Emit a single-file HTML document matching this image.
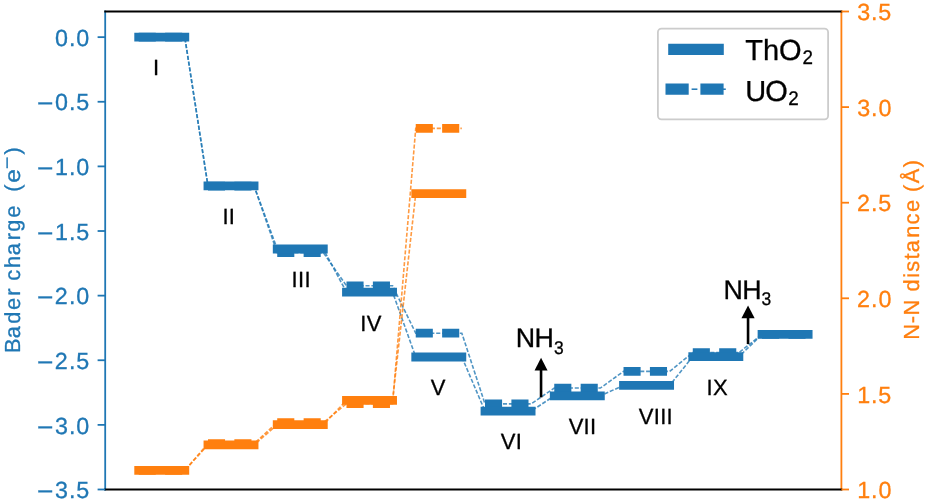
<!DOCTYPE html>
<html><head><meta charset="utf-8"><title>Bader charge and N-N distance</title><style>html,body{margin:0;padding:0;background:#fff;overflow:hidden}text{stroke-width:0.3px;paint-order:stroke}</style></head><body>
<svg width="926" height="502" viewBox="0 0 926 502" style="display:block;will-change:transform;font-family:'Liberation Sans',sans-serif;font-kerning:none;text-rendering:geometricPrecision">
<rect x="0" y="0" width="926" height="502" fill="#ffffff"/>
<polyline points="138.70,37.20 184.80,37.20 207.96,186.10 254.06,186.10 277.22,252.60 323.32,252.60 346.48,285.80 392.58,285.80 415.74,333.20 461.84,333.20 485.00,403.90 531.10,403.90 554.26,388.05 600.36,388.05 623.52,371.40 669.62,371.40 692.78,352.65 738.88,352.65 762.04,334.40 808.14,334.40" fill="none" stroke="#1f77b4" stroke-opacity="0.78" stroke-width="1.60" stroke-dasharray="4.1 1.8"/>
<line x1="138.70" y1="37.20" x2="184.80" y2="37.20" stroke="#1f77b4" stroke-width="8.80" stroke-dasharray="17.1 9.3" stroke-linecap="butt"/>
<line x1="207.96" y1="186.10" x2="254.06" y2="186.10" stroke="#1f77b4" stroke-width="8.80" stroke-dasharray="17.1 9.3" stroke-linecap="butt"/>
<line x1="277.22" y1="252.60" x2="323.32" y2="252.60" stroke="#1f77b4" stroke-width="8.80" stroke-dasharray="17.1 9.3" stroke-linecap="butt"/>
<line x1="346.48" y1="285.80" x2="392.58" y2="285.80" stroke="#1f77b4" stroke-width="8.80" stroke-dasharray="17.1 9.3" stroke-linecap="butt"/>
<line x1="415.74" y1="333.20" x2="461.84" y2="333.20" stroke="#1f77b4" stroke-width="8.80" stroke-dasharray="17.1 9.3" stroke-linecap="butt"/>
<line x1="485.00" y1="403.90" x2="531.10" y2="403.90" stroke="#1f77b4" stroke-width="8.80" stroke-dasharray="17.1 9.3" stroke-linecap="butt"/>
<line x1="554.26" y1="388.05" x2="600.36" y2="388.05" stroke="#1f77b4" stroke-width="8.80" stroke-dasharray="17.1 9.3" stroke-linecap="butt"/>
<line x1="623.52" y1="371.40" x2="669.62" y2="371.40" stroke="#1f77b4" stroke-width="8.80" stroke-dasharray="17.1 9.3" stroke-linecap="butt"/>
<line x1="692.78" y1="352.65" x2="738.88" y2="352.65" stroke="#1f77b4" stroke-width="8.80" stroke-dasharray="17.1 9.3" stroke-linecap="butt"/>
<line x1="762.04" y1="334.40" x2="808.14" y2="334.40" stroke="#1f77b4" stroke-width="8.80" stroke-dasharray="17.1 9.3" stroke-linecap="butt"/>
<polyline points="138.70,37.20 184.80,37.20 207.96,185.80 254.06,185.80 277.22,249.00 323.32,249.00 346.48,292.20 392.58,292.20 415.74,357.00 461.84,357.00 485.00,411.10 531.10,411.10 554.26,395.85 600.36,395.85 623.52,385.40 669.62,385.40 692.78,356.60 738.88,356.60 762.04,334.40 808.14,334.40" fill="none" stroke="#1f77b4" stroke-opacity="0.78" stroke-width="1.60" stroke-dasharray="4.1 1.8"/>
<line x1="138.70" y1="37.20" x2="184.80" y2="37.20" stroke="#1f77b4" stroke-width="8.80" stroke-linecap="square"/>
<line x1="207.96" y1="185.80" x2="254.06" y2="185.80" stroke="#1f77b4" stroke-width="8.80" stroke-linecap="square"/>
<line x1="277.22" y1="249.00" x2="323.32" y2="249.00" stroke="#1f77b4" stroke-width="8.80" stroke-linecap="square"/>
<line x1="346.48" y1="292.20" x2="392.58" y2="292.20" stroke="#1f77b4" stroke-width="8.80" stroke-linecap="square"/>
<line x1="415.74" y1="357.00" x2="461.84" y2="357.00" stroke="#1f77b4" stroke-width="8.80" stroke-linecap="square"/>
<line x1="485.00" y1="411.10" x2="531.10" y2="411.10" stroke="#1f77b4" stroke-width="8.80" stroke-linecap="square"/>
<line x1="554.26" y1="395.85" x2="600.36" y2="395.85" stroke="#1f77b4" stroke-width="8.80" stroke-linecap="square"/>
<line x1="623.52" y1="385.40" x2="669.62" y2="385.40" stroke="#1f77b4" stroke-width="8.80" stroke-linecap="square"/>
<line x1="692.78" y1="356.60" x2="738.88" y2="356.60" stroke="#1f77b4" stroke-width="8.80" stroke-linecap="square"/>
<line x1="762.04" y1="334.40" x2="808.14" y2="334.40" stroke="#1f77b4" stroke-width="8.80" stroke-linecap="square"/>
<text x="153.02" y="75.40" style="font-size:22.00px;fill:#000;stroke:#000">I</text>
<text x="222.42 228.85" y="224.00" style="font-size:22.00px;fill:#000;stroke:#000">II</text>
<text x="291.52 297.95 304.38" y="287.30" style="font-size:22.00px;fill:#000;stroke:#000">III</text>
<text x="360.32 366.70" y="330.50" style="font-size:22.00px;fill:#000;stroke:#000">IV</text>
<text x="430.74" y="394.90" style="font-size:22.00px;fill:#000;stroke:#000">V</text>
<text x="500.74 515.70" y="448.80" style="font-size:22.00px;fill:#000;stroke:#000">VI</text>
<text x="568.64 583.60 590.03" y="433.80" style="font-size:22.00px;fill:#000;stroke:#000">VII</text>
<text x="638.74 653.70 660.13 666.56" y="423.80" style="font-size:22.00px;fill:#000;stroke:#000">VIII</text>
<text x="706.62 712.99" y="395.10" style="font-size:22.00px;fill:#000;stroke:#000">IX</text>
<line x1="541.05" y1="397.40" x2="541.05" y2="368.50" stroke="#000" stroke-width="2.6"/>
<polygon points="541.05,357.70 534.55,370.50 547.55,370.50" fill="#000"/>
<line x1="748.05" y1="344.10" x2="748.05" y2="316.20" stroke="#000" stroke-width="2.6"/>
<polygon points="748.05,305.40 741.45,318.20 754.65,318.20" fill="#000"/>
<text x="515.80 534.40" y="347.10" style="font-size:26.80px;fill:#000;stroke:#000">NH</text>
<text x="583.21" y="353.70" transform="scale(0.95,1)" style="font-size:18.40px;fill:#000;stroke:#000">3</text>
<text x="723.60 742.20" y="298.50" style="font-size:26.80px;fill:#000;stroke:#000">NH</text>
<text x="801.63" y="305.30" transform="scale(0.95,1)" style="font-size:18.40px;fill:#000;stroke:#000">3</text>
<polyline points="138.70,470.30 184.80,470.30 207.96,443.60 254.06,443.60 277.22,422.60 323.32,422.60 346.48,403.70 392.58,403.70 415.74,128.40 461.84,128.40" fill="none" stroke="#ff7f0e" stroke-opacity="0.78" stroke-width="1.60" stroke-dasharray="4.1 1.8"/>
<line x1="138.70" y1="470.30" x2="184.80" y2="470.30" stroke="#ff7f0e" stroke-width="8.80" stroke-dasharray="17.1 9.3" stroke-linecap="butt"/>
<line x1="207.96" y1="443.60" x2="254.06" y2="443.60" stroke="#ff7f0e" stroke-width="8.80" stroke-dasharray="17.1 9.3" stroke-linecap="butt"/>
<line x1="277.22" y1="422.60" x2="323.32" y2="422.60" stroke="#ff7f0e" stroke-width="8.80" stroke-dasharray="17.1 9.3" stroke-linecap="butt"/>
<line x1="346.48" y1="403.70" x2="392.58" y2="403.70" stroke="#ff7f0e" stroke-width="8.80" stroke-dasharray="17.1 9.3" stroke-linecap="butt"/>
<line x1="415.74" y1="128.40" x2="461.84" y2="128.40" stroke="#ff7f0e" stroke-width="8.80" stroke-dasharray="17.1 9.3" stroke-linecap="butt"/>
<polyline points="138.70,470.30 184.80,470.30 207.96,444.90 254.06,444.90 277.22,424.70 323.32,424.70 346.48,400.40 392.58,400.40 415.74,193.65 461.84,193.65" fill="none" stroke="#ff7f0e" stroke-opacity="0.78" stroke-width="1.60" stroke-dasharray="4.1 1.8"/>
<line x1="138.70" y1="470.30" x2="184.80" y2="470.30" stroke="#ff7f0e" stroke-width="8.80" stroke-linecap="square"/>
<line x1="207.96" y1="444.90" x2="254.06" y2="444.90" stroke="#ff7f0e" stroke-width="8.80" stroke-linecap="square"/>
<line x1="277.22" y1="424.70" x2="323.32" y2="424.70" stroke="#ff7f0e" stroke-width="8.80" stroke-linecap="square"/>
<line x1="346.48" y1="400.40" x2="392.58" y2="400.40" stroke="#ff7f0e" stroke-width="8.80" stroke-linecap="square"/>
<line x1="415.74" y1="193.65" x2="461.84" y2="193.65" stroke="#ff7f0e" stroke-width="8.80" stroke-linecap="square"/>
<line x1="105.20" y1="11.50" x2="105.20" y2="489.50" stroke="#1f77b4" stroke-width="1.80" stroke-linecap="square"/>
<line x1="841.40" y1="11.50" x2="841.40" y2="489.50" stroke="#ff7f0e" stroke-width="1.80" stroke-linecap="square"/>
<line x1="105.20" y1="11.50" x2="841.40" y2="11.50" stroke="#000" stroke-width="1.80" stroke-linecap="square"/>
<line x1="105.20" y1="489.50" x2="841.40" y2="489.50" stroke="#000" stroke-width="1.80" stroke-linecap="square"/>
<line x1="97.60" y1="37.15" x2="105.20" y2="37.15" stroke="#1f77b4" stroke-width="1.80"/>
<text x="55.07 68.90 76.25" y="46.00" style="font-size:23.30px;fill:#1f77b4;stroke:#1f77b4">0.0</text>
<line x1="97.60" y1="101.77" x2="105.20" y2="101.77" stroke="#1f77b4" stroke-width="1.80"/>
<text x="34.25" y="111.70" transform="scale(1.0800,1)" style="font-size:26.00px;fill:#1f77b4;stroke:#1f77b4">−</text><text x="55.07 68.90 76.17" y="110.00" style="font-size:23.30px;fill:#1f77b4;stroke:#1f77b4">0.5</text>
<line x1="97.60" y1="166.39" x2="105.20" y2="166.39" stroke="#1f77b4" stroke-width="1.80"/>
<text x="34.25" y="176.70" transform="scale(1.0800,1)" style="font-size:26.00px;fill:#1f77b4;stroke:#1f77b4">−</text><text x="54.95 68.90 76.25" y="175.00" style="font-size:23.30px;fill:#1f77b4;stroke:#1f77b4">1.0</text>
<line x1="97.60" y1="231.01" x2="105.20" y2="231.01" stroke="#1f77b4" stroke-width="1.80"/>
<text x="34.25" y="241.70" transform="scale(1.0800,1)" style="font-size:26.00px;fill:#1f77b4;stroke:#1f77b4">−</text><text x="54.95 68.90 76.17" y="240.00" style="font-size:23.30px;fill:#1f77b4;stroke:#1f77b4">1.5</text>
<line x1="97.60" y1="295.63" x2="105.20" y2="295.63" stroke="#1f77b4" stroke-width="1.80"/>
<text x="34.25" y="305.70" transform="scale(1.0800,1)" style="font-size:26.00px;fill:#1f77b4;stroke:#1f77b4">−</text><text x="54.78 68.90 76.25" y="304.00" style="font-size:23.30px;fill:#1f77b4;stroke:#1f77b4">2.0</text>
<line x1="97.60" y1="360.25" x2="105.20" y2="360.25" stroke="#1f77b4" stroke-width="1.80"/>
<text x="34.25" y="370.70" transform="scale(1.0800,1)" style="font-size:26.00px;fill:#1f77b4;stroke:#1f77b4">−</text><text x="54.78 68.90 76.17" y="369.00" style="font-size:23.30px;fill:#1f77b4;stroke:#1f77b4">2.5</text>
<line x1="97.60" y1="424.87" x2="105.20" y2="424.87" stroke="#1f77b4" stroke-width="1.80"/>
<text x="34.25" y="435.70" transform="scale(1.0800,1)" style="font-size:26.00px;fill:#1f77b4;stroke:#1f77b4">−</text><text x="55.10 68.90 76.25" y="434.00" style="font-size:23.30px;fill:#1f77b4;stroke:#1f77b4">3.0</text>
<line x1="97.60" y1="489.49" x2="105.20" y2="489.49" stroke="#1f77b4" stroke-width="1.80"/>
<text x="34.25" y="499.70" transform="scale(1.0800,1)" style="font-size:26.00px;fill:#1f77b4;stroke:#1f77b4">−</text><text x="55.10 68.90 76.17" y="498.00" style="font-size:23.30px;fill:#1f77b4;stroke:#1f77b4">3.5</text>
<line x1="841.40" y1="489.50" x2="849.00" y2="489.50" stroke="#ff7f0e" stroke-width="1.80"/>
<text x="857.16 871.11 878.46" y="498.00" style="font-size:23.30px;fill:#ff7f0e;stroke:#ff7f0e">1.0</text>
<line x1="841.40" y1="393.90" x2="849.00" y2="393.90" stroke="#ff7f0e" stroke-width="1.80"/>
<text x="857.16 871.11 878.37" y="403.00" style="font-size:23.30px;fill:#ff7f0e;stroke:#ff7f0e">1.5</text>
<line x1="841.40" y1="298.30" x2="849.00" y2="298.30" stroke="#ff7f0e" stroke-width="1.80"/>
<text x="856.98 871.11 878.46" y="307.00" style="font-size:23.30px;fill:#ff7f0e;stroke:#ff7f0e">2.0</text>
<line x1="841.40" y1="202.70" x2="849.00" y2="202.70" stroke="#ff7f0e" stroke-width="1.80"/>
<text x="856.98 871.11 878.37" y="211.00" style="font-size:23.30px;fill:#ff7f0e;stroke:#ff7f0e">2.5</text>
<line x1="841.40" y1="107.10" x2="849.00" y2="107.10" stroke="#ff7f0e" stroke-width="1.80"/>
<text x="857.31 871.11 878.46" y="116.00" style="font-size:23.30px;fill:#ff7f0e;stroke:#ff7f0e">3.0</text>
<line x1="841.40" y1="11.50" x2="849.00" y2="11.50" stroke="#ff7f0e" stroke-width="1.80"/>
<text x="857.31 871.11 878.37" y="20.00" style="font-size:23.30px;fill:#ff7f0e;stroke:#ff7f0e">3.5</text>
<g transform="translate(19.60,353.16) rotate(-90)"><text x="0.26 14.97 29.35 43.29 57.42 72.46 85.13 98.03 112.98 121.45 135.39" y="0.00" style="font-size:21.80px;fill:#1f77b4;stroke:#1f77b4">Badercharge</text></g>
<g transform="translate(19.60,191.80) rotate(-90)"><text x="0.11" y="0.00" style="font-size:21.80px;fill:#1f77b4;stroke:#1f77b4">(</text></g>
<g transform="translate(19.60,182.85) rotate(-90)"><text x="0.02" y="0.00" transform="scale(1.1200,1)" style="font-size:21.80px;fill:#1f77b4;stroke:#1f77b4">e</text></g>
<g transform="translate(12.90,169.20) rotate(-90)"><text x="0.25" y="0.00" transform="scale(1.2000,1)" style="font-size:17.55px;fill:#1f77b4;stroke:#1f77b4">−</text></g>
<g transform="translate(19.60,155.60) rotate(-90)"><text x="1.21" y="0.00" style="font-size:21.80px;fill:#1f77b4;stroke:#1f77b4">)</text></g>
<g transform="translate(918.60,340.16) rotate(-90)"><text x="0.35 16.80 24.75 48.62 62.46 68.35 80.62 87.89 102.45 115.78 128.28 148.17 156.89 172.90" y="0.00" style="font-size:21.80px;fill:#ff7f0e;stroke:#ff7f0e">N-Ndistance(Å)</text></g>
<rect x="657.9" y="28.6" width="170.2" height="90.8" rx="3.6" ry="3.6" fill="#ffffff" fill-opacity="0.8" stroke="#cccccc" stroke-width="1.8"/>
<line x1="668.2" y1="49.4" x2="723.8" y2="49.4" stroke="#1f77b4" stroke-width="11.2"/>
<line x1="691.6" y1="89.2" x2="697.4" y2="89.2" stroke="#1f77b4" stroke-width="1.5"/>
<line x1="723.0" y1="89.2" x2="725.8" y2="89.2" stroke="#1f77b4" stroke-width="1.5"/>
<line x1="665.5" y1="89.2" x2="723.8" y2="89.2" stroke="#1f77b4" stroke-width="11.2" stroke-dasharray="23.2 11.7"/>
<text x="745.26 762.99 779.09" y="60.20" style="font-size:29.00px;fill:#000;stroke:#000">ThO</text>
<text x="844.69" y="64.40" transform="scale(0.9500,1)" style="font-size:19.80px;fill:#000;stroke:#000">2</text>
<text x="745.28 765.14" y="100.60" style="font-size:29.00px;fill:#000;stroke:#000">UO</text>
<text x="829.74" y="105.20" transform="scale(0.9500,1)" style="font-size:19.80px;fill:#000;stroke:#000">2</text>
</svg>
</body></html>
